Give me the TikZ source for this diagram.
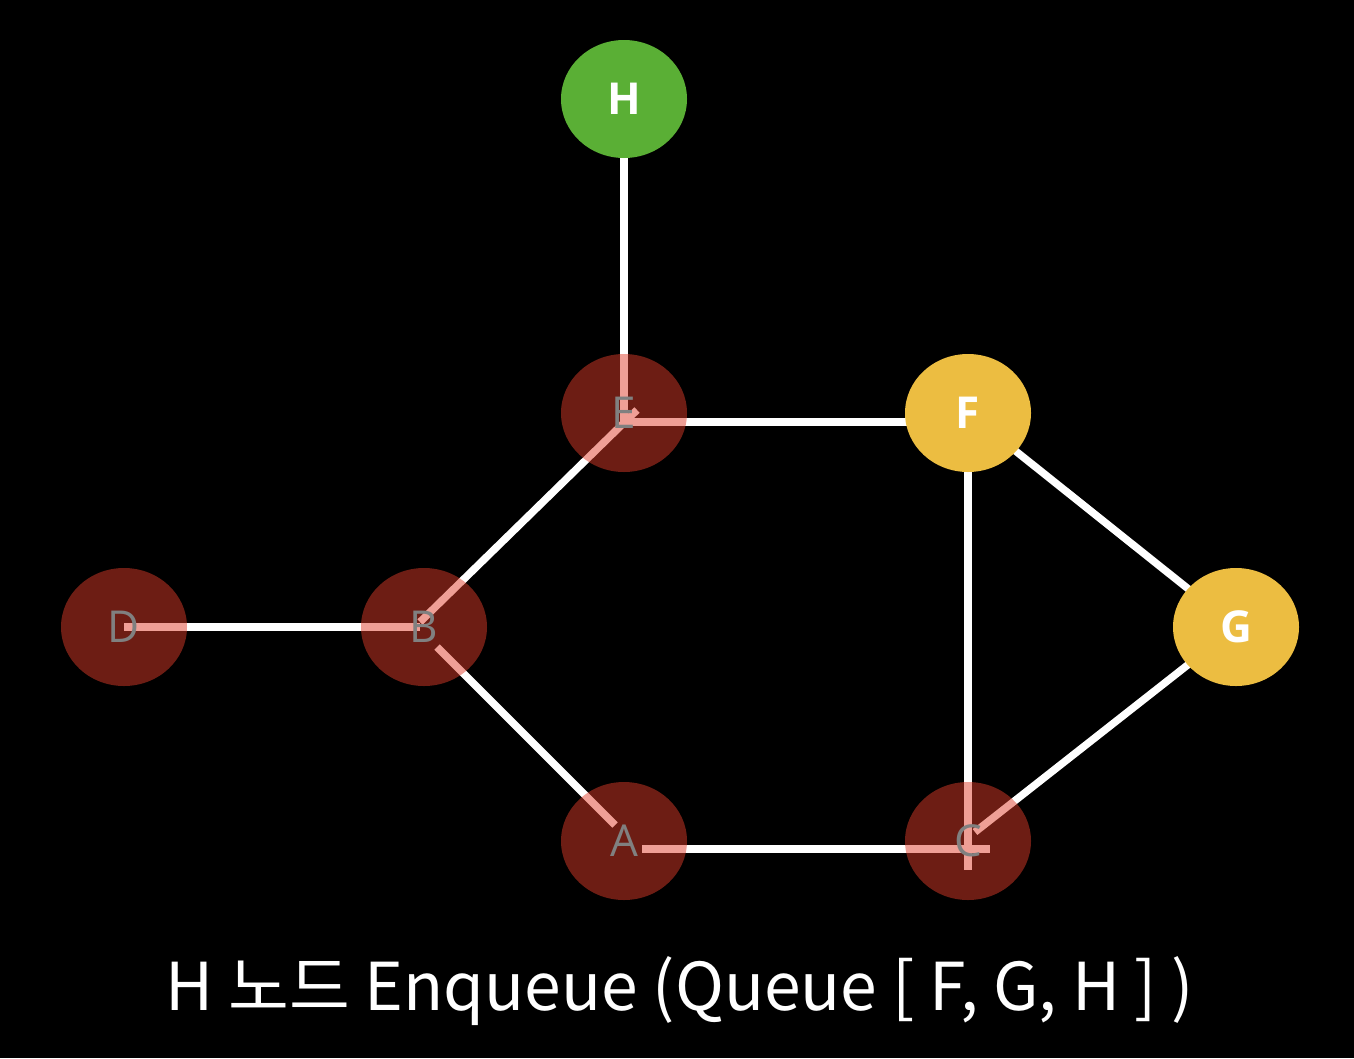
\documentclass[tikz,border=0pt]{standalone}
\usepackage{fontspec}
\setmainfont{Noto Sans}
\newfontfamily\nodefont{Open Sans}
\newfontfamily\krfont{Noto Sans CJK KR}
\usetikzlibrary{shapes.geometric,calc}
\definecolor{visited}{RGB}{224,61,41}
\definecolor{queued}{RGB}{236,189,65}
\definecolor{current}{RGB}{90,175,53}
\definecolor{dimtext}{RGB}{128,128,128}
\newcommand{\lowered}[1]{\raisebox{-2pt}{#1}}
\begin{document}
\begin{tikzpicture}[x=1pt,y=-1pt,
  basenode/.style={ellipse,minimum width=126,minimum height=118,inner sep=0pt,font=\nodefont\fontsize{44}{44}\selectfont},
  vnode/.style={basenode,fill=visited,fill opacity=0.49,text opacity=1,text=dimtext},
  qnode/.style={basenode,fill=queued,text=white,font=\nodefont\fontsize{44}{44}\selectfont\bfseries},
  cnode/.style={basenode,fill=current,text=white,font=\nodefont\fontsize{44}{44}\selectfont\bfseries},
  edge/.style={draw=white,line width=7.5pt}]
\path[fill=black] (0,0) rectangle (1354,1058);
% node centers
\coordinate (H) at (624,99);
\coordinate (E) at (624,413);
\coordinate (F) at (968,413);
\coordinate (D) at (124,627);
\coordinate (B) at (424,627);
\coordinate (G) at (1236,627);
\coordinate (A) at (624,841);
\coordinate (C) at (968,841);
% edges
\draw[edge] (H) -- ($(E)+(0,5)$);
\draw[edge] ($(E)+(-4,9)$) -- ($(F)+(0,9)$);
\draw[edge] ($(B)+(-4,-5)$) -- ($(E)+(13,-3)$);
\draw[edge] ($(B)+(13,20)$) -- ($(A)+(-9,-16)$);
\draw[edge] ($(A)+(18,8)$) -- ($(C)+(22,8)$);
\draw[edge] (F) -- ($(C)+(0,29)$);
\draw[edge] ($(C)+(7,-9)$) -- (G);
\draw[edge] (F) -- (G);
\draw[edge] (D) -- ($(B)+(-4,0)$);
% nodes
\node[vnode] (nE) at (E) {\lowered{E}};
\node[vnode] (nD) at (D) {\lowered{D}};
\node[vnode] (nB) at (B) {\lowered{B}};
\node[vnode] (nA) at (A) {\lowered{A}};
\node[vnode] (nC) at (C) {\lowered{C}};
\node[qnode] (nF) at (F) {\lowered{F}};
\node[qnode] (nG) at (G) {\lowered{G}};
\node[cnode] (nH) at (H) {\lowered{H}};
% title
\node[text=white,font=\krfont\fontsize{66}{66}\selectfont,anchor=base] (title) at (680,1010) {H 노드 Enqueue (Queue [ F, G, H ] )};
\end{tikzpicture}
\end{document}
